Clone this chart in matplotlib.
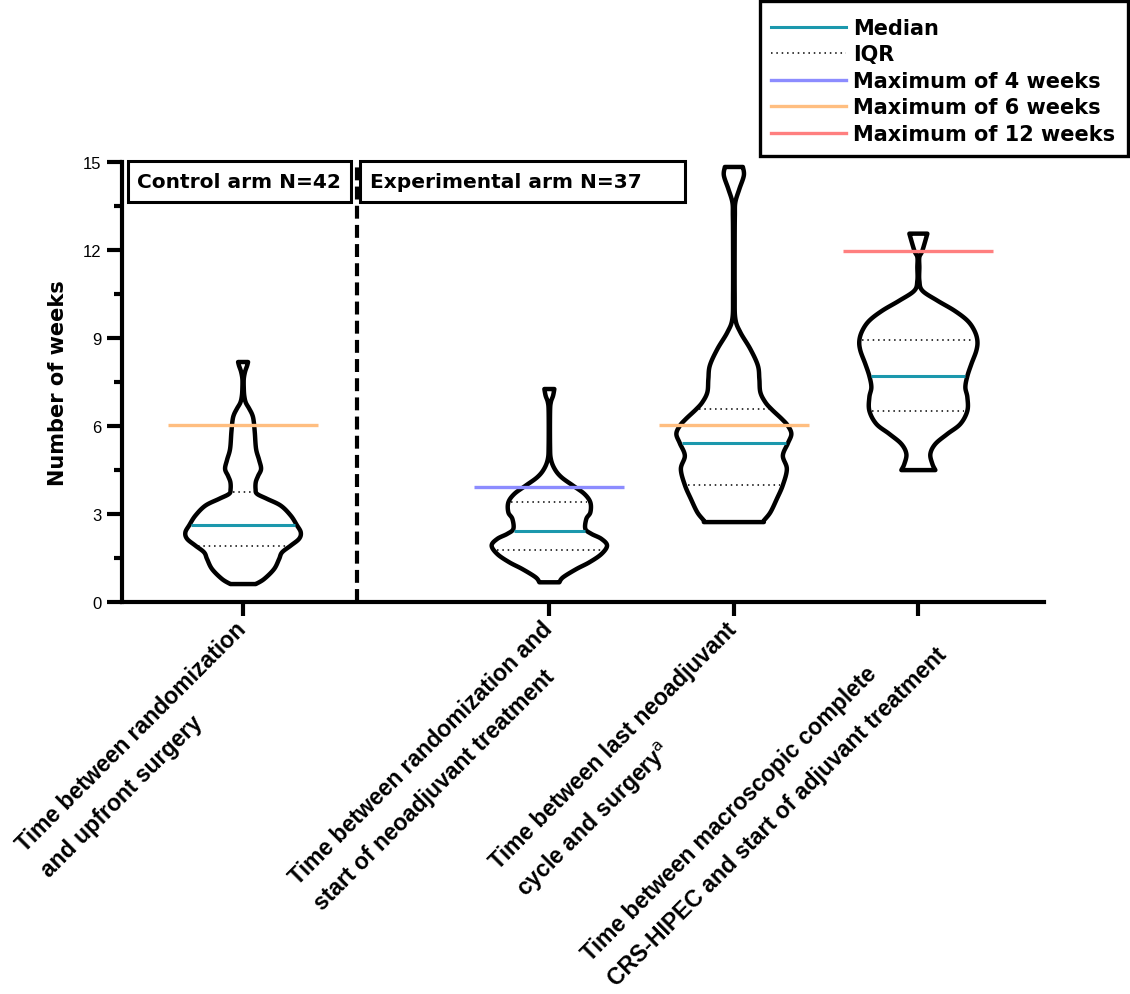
import numpy as np
import matplotlib.pyplot as plt
from matplotlib.lines import Line2D
from matplotlib.patches import Rectangle
from matplotlib.transforms import ScaledTranslation

plt.rcParams['font.family'] = ['Liberation Sans', 'DejaVu Sans']

# --- data (weeks) ---
categories = [
    "Time between randomization\nand upfront surgery",
    "Time between randomization and\nstart of neoadjuvant treatment",
    "Time between last neoadjuvant\ncycle and surgery$^{\\mathsf{a}}$",
    "Time between macroscopic complete\nCRS-HIPEC and start of adjuvant treatment",
]

# violin outlines: y levels (weeks) and half-width (density, px-scaled)
v1_y = [0.62, 0.79, 1.13, 1.47, 1.70, 1.93, 2.16, 2.38, 2.63, 2.95, 3.29, 3.52, 3.69, 3.85,
        4.09, 4.30, 4.54, 4.85, 5.22, 5.79, 6.20, 6.40, 6.60, 6.80, 7.03, 7.30, 7.60, 7.85, 8.05, 8.18]
v1_w = [12.7, 21, 31, 36, 39, 47.7, 56, 57.7, 53.7, 47.7, 37.7, 24, 14, 12.5,
        12.7, 15, 18, 16, 13, 11.7, 10.5, 9, 6, 2.7, 1.2, 0.7, 0.7, 2, 4, 5]

v2_y = [0.68, 0.85, 1.13, 1.36, 1.64, 1.93, 2.16, 2.33, 2.50, 2.84, 3.06, 3.40, 3.69, 3.97,
        4.26, 4.54, 4.88, 5.33, 6.47, 6.81, 7.03, 7.26]
v2_w = [10, 13.7, 27, 40, 52, 57.7, 52, 42, 36, 37, 41, 41, 35, 23.7,
        12, 5.3, 1.5, 0.7, 0.7, 1.5, 3.7, 5]

v3_y = [2.73, 2.78, 3.06, 3.52, 3.99, 4.54, 4.99, 5.41, 5.73, 6.01, 6.24, 6.56, 6.81, 7.15,
        7.60, 8.06, 8.62, 9.19, 9.65, 10.5, 12.3, 13.16, 13.62, 14.07, 14.53, 14.82]
v3_w = [30, 30, 36.5, 43, 49, 53, 49, 54, 57.5, 54, 48, 38, 31.5, 26.5,
        25.5, 24, 16.5, 6.5, 1.5, 0.8, 0.8, 1, 1.5, 5.5, 10, 9]

v4_y = [4.50, 4.71, 5.05, 5.39, 5.73, 6.07, 6.52, 6.98, 7.32, 7.70, 8.11, 8.57, 8.91, 9.25,
        9.59, 9.93, 10.27, 10.61, 10.95, 11.40, 11.75, 11.97, 12.55]
v4_w = [17, 14, 12, 17, 29, 42, 49, 49, 47, 49, 53, 58, 59, 56,
        49, 36, 19, 4, 1, 1, 1, 4, 9]

medians = [2.63, 2.43, 5.43, 7.70]
q1 = [1.93, 1.78, 3.99, 6.52]
q3 = [3.75, 3.41, 6.57, 8.92]

limit_values = [6.03, 3.93, 6.03, 11.95]
limit_labels = ["Maximum of 6 weeks", "Maximum of 4 weeks", "Maximum of 6 weeks", "Maximum of 12 weeks"]

# --- style ---
C_MEDIAN = "#1b98ad"
LIMIT_COLORS = {"Maximum of 4 weeks": "#8c8cff",
                "Maximum of 6 weeks": "#ffbe80",
                "Maximum of 12 weeks": "#ff7f7f"}
positions = [0, 1.66, 2.66, 3.66]
W_SCALE = 1 / 184.5   # density units -> category units
WIDE_FONT = "DejaVu Sans"


def smooth_side(ys, ws, n=10):
    # Catmull-Rom through the read points, just to draw a smooth outline
    ys = np.asarray(ys, float)
    ws = np.asarray(ws, float)
    py = np.concatenate([[ys[0]], ys, [ys[-1]]])
    pw = np.concatenate([[ws[0]], ws, [ws[-1]]])
    oy, ow = [], []
    for i in range(1, len(py) - 2):
        t = np.linspace(0, 1, n, endpoint=False)
        for p, o in ((py, oy), (pw, ow)):
            p0, p1, p2, p3 = p[i - 1], p[i], p[i + 1], p[i + 2]
            o.extend(0.5 * (2 * p1 + (-p0 + p2) * t + (2 * p0 - 5 * p1 + 4 * p2 - p3) * t ** 2
                            + (-p0 + 3 * p1 - 3 * p2 + p3) * t ** 3))
    oy.append(ys[-1])
    ow.append(ws[-1])
    return np.array(oy), np.maximum(np.array(ow), 0.6)


fig = plt.figure(figsize=(11.3, 9.95), dpi=100)
ax = fig.add_axes([0.1080, 0.3937, 0.8159, 0.4428])
ax.set_xlim(-0.656, 4.341)
ax.set_ylim(0, 15)

violins = [(v1_y, v1_w), (v2_y, v2_w), (v3_y, v3_w), (v4_y, v4_w)]
for i, (vy, vw) in enumerate(violins):
    x0 = positions[i]
    sy, sw = smooth_side(vy, vw)
    xs = np.concatenate([x0 + sw * W_SCALE, (x0 - sw * W_SCALE)[::-1]])
    ys = np.concatenate([sy, sy[::-1]])
    ax.fill(xs, ys, facecolor="white", edgecolor="black", lw=3.2, joinstyle="round", zorder=2)

    hw = np.interp(medians[i], sy, sw) - 2
    ax.plot([x0 - hw * W_SCALE, x0 + hw * W_SCALE], [medians[i]] * 2,
            color=C_MEDIAN, lw=2.2, solid_capstyle="butt", zorder=3)
    for q in (q1[i], q3[i]):
        hw = np.interp(q, sy, sw) - 3
        ax.plot([x0 - hw * W_SCALE, x0 + hw * W_SCALE], [q, q],
                color="black", lw=1.1, ls=(0, (1, 2.5)), zorder=3)

    ax.plot([x0 - 0.4065, x0 + 0.4065], [limit_values[i]] * 2,
            color=LIMIT_COLORS[limit_labels[i]], lw=2.4, solid_capstyle="butt", zorder=4)

# separator between arms
ax.plot([0.618, 0.618], [0, 15], color="black", lw=3, dashes=(3.1, 1.5), clip_on=False, zorder=2)

# arm boxes
ax.add_patch(Rectangle((-0.623, 13.63), 1.208, 1.40, facecolor="white", edgecolor="black",
                       lw=2.2, clip_on=False, zorder=5))
ax.text(-0.575, 14.31, "Control arm N=42", fontsize=14.5, fontweight="bold", family=WIDE_FONT,
        va="center", ha="left", zorder=6)
ax.add_patch(Rectangle((0.634, 13.63), 1.762, 1.40, facecolor="white", edgecolor="black",
                       lw=2.2, clip_on=False, zorder=5))
ax.text(0.688, 14.31, "Experimental arm N=37", fontsize=14.5, fontweight="bold", family=WIDE_FONT,
        va="center", ha="left", zorder=6)

# axes styling
for s in ("top", "right"):
    ax.spines[s].set_visible(False)
for s in ("left", "bottom"):
    ax.spines[s].set_linewidth(3)
ax.set_yticks([0, 3, 6, 9, 12, 15])
ax.set_yticks(np.arange(1.5, 15, 3), minor=True)
ax.tick_params(axis="y", which="major", length=11, width=3, labelsize=12, pad=4)
ax.tick_params(axis="y", which="minor", length=6, width=3)
ax.set_xticks(positions)
ax.set_xticklabels(categories, rotation=45, ha="right", va="top", rotation_mode="anchor",
                   fontsize=16.6, fontweight="bold", multialignment="left", linespacing=1.7)
ax.tick_params(axis="x", length=10, width=3, pad=3)
# nudge the slanted labels a little left, as in the original
shift = ScaledTranslation(-9 / 100, 3 / 100, fig.dpi_scale_trans)
for lab in ax.get_xticklabels():
    lab.set_transform(lab.get_transform() + shift)

ax.set_ylabel("Number of weeks", fontsize=15, fontweight="bold", family=WIDE_FONT)
ax.yaxis.set_label_coords(-0.0586, 0.5)

# legend (frame drawn separately to match the original's padding)
handles = [Line2D([], [], color=C_MEDIAN, lw=2.2),
           Line2D([], [], color="black", lw=1.1, ls=(0, (1, 2.5))),
           Line2D([], [], color=LIMIT_COLORS["Maximum of 4 weeks"], lw=2.4),
           Line2D([], [], color=LIMIT_COLORS["Maximum of 6 weeks"], lw=2.4),
           Line2D([], [], color=LIMIT_COLORS["Maximum of 12 weeks"], lw=2.4)]
leg_labels = ["Median", "IQR", "Maximum of 4 weeks", "Maximum of 6 weeks", "Maximum of 12 weeks"]
fig.legend(handles, leg_labels, loc="upper left", bbox_to_anchor=(771 / 1130, 1 - 19 / 995),
           borderaxespad=0, borderpad=0, frameon=False,
           prop={"size": 15, "weight": "bold", "family": WIDE_FONT}, handlelength=3.6,
           handletextpad=0.34, labelspacing=0.31)
fig.patches.append(Rectangle((760 / 1130, 1 - 157 / 995), 368 / 1130, 155 / 995,
                             transform=fig.transFigure, facecolor="none", edgecolor="black", lw=2.4))

fig.savefig("out.png", dpi=100)
